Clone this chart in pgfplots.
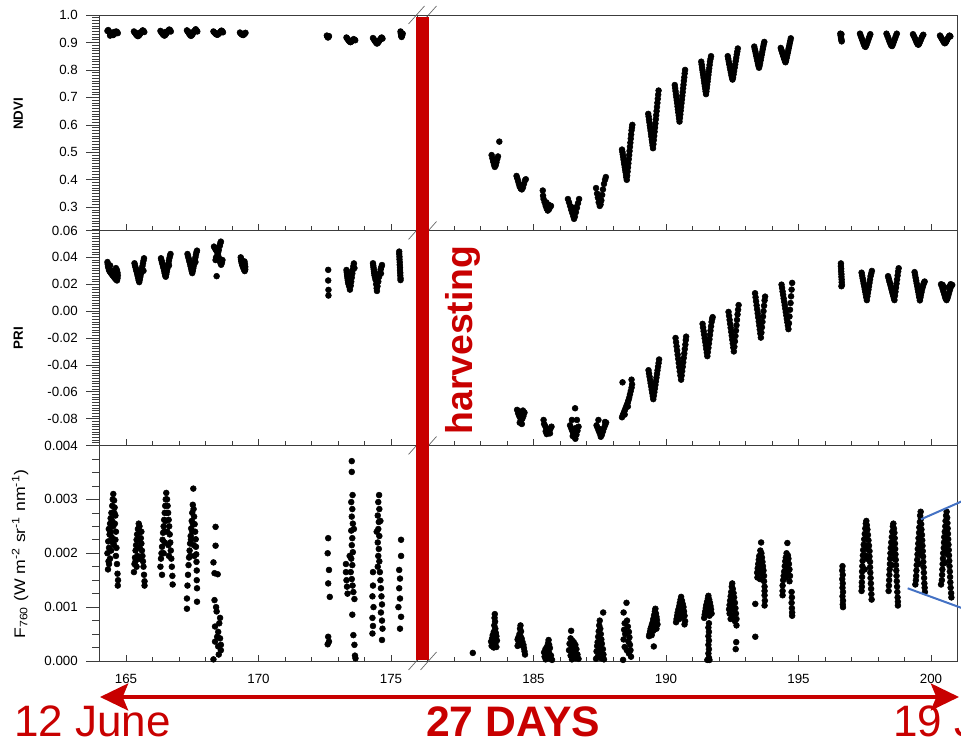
\documentclass[border=0pt]{standalone}
\usepackage{pgfplots}
\pgfplotsset{compat=1.18}
\usepackage{fontspec}
\setmainfont{Liberation Sans}
\usetikzlibrary{arrows.meta}
\definecolor{hred}{RGB}{200,0,0}
\definecolor{bl}{RGB}{68,114,196}
\definecolor{ax}{RGB}{60,60,60}
\pgfplotsset{
  panel/.style={scale only axis, anchor=south west, axis line style={draw=ax, line width=0.6pt},
    tick style={draw=ax, line width=0.5pt}, ytick=\empty, xtick pos=bottom,
    major tick length=4.5pt, minor tick length=3pt, xticklabels={},
    xticklabel style={font=\fontsize{10}{12}\selectfont, yshift=-6.5pt}, scaled y ticks=false},
  leftx/.style={width=238.5pt, xmin=164, xmax=176, xtick={165,170,175}, minor xtick={164,...,176}},
  rightx/.style={width=397.5pt, xmin=181, xmax=201, xtick={185,190,195,200}, minor xtick={181,...,201}},
  yov/.style={scale only axis, anchor=south west, width=238.5pt, xmin=164, xmax=176, hide x axis,
    ytick pos=left, tick align=outside, axis line style={draw=ax, line width=0.6pt},
    tick style={draw=ax, line width=0.5pt}, major tick length=9.75pt, minor tick length=5.5pt,
    yticklabel style={font=\fontsize{10}{12}\selectfont, xshift=-3pt}, scaled y ticks=false},
  dots/.style={only marks, mark=*, mark size=2.2pt, mark options={draw=black, fill=black, line width=0.4pt}},
}
\begin{document}
\begin{tikzpicture}
\useasboundingbox (0,0) rectangle (720.75pt,559.5pt);
% ---------------- NDVI ----------------
\begin{axis}[panel, leftx, at={(74.625pt,386.625pt)}, height=161.625pt, ymin=0.2155, ymax=1.0]
\addplot[dots] coordinates {
(164.30,0.942)(164.33,0.945)(164.36,0.940)(164.39,0.935)(164.42,0.932)(164.45,0.930)(164.48,0.928)(164.51,0.927)(164.54,0.929)(164.57,0.932)(164.60,0.936)(164.63,0.940)(164.66,0.938)(164.69,0.934)(164.40,0.925)(164.55,0.938)
(165.30,0.940)(165.33,0.936)(165.36,0.932)(165.39,0.928)(165.42,0.925)(165.45,0.923)(165.48,0.925)(165.51,0.928)(165.54,0.932)(165.57,0.936)(165.60,0.940)(165.63,0.944)(165.66,0.942)(165.69,0.938)(165.50,0.935)
(166.30,0.942)(166.33,0.938)(166.36,0.934)(166.39,0.930)(166.42,0.927)(166.45,0.925)(166.48,0.927)(166.51,0.931)(166.54,0.935)(166.57,0.939)(166.60,0.943)(166.63,0.947)(166.66,0.945)(166.69,0.940)(166.48,0.938)
(167.30,0.944)(167.33,0.940)(167.36,0.935)(167.39,0.931)(167.42,0.927)(167.45,0.924)(167.48,0.926)(167.51,0.930)(167.54,0.935)(167.57,0.940)(167.60,0.944)(167.63,0.948)(167.66,0.944)(167.69,0.940)(167.45,0.936)
(168.30,0.940)(168.33,0.937)(168.36,0.934)(168.39,0.931)(168.42,0.929)(168.45,0.928)(168.48,0.930)(168.51,0.933)(168.54,0.936)(168.57,0.940)(168.60,0.943)(168.63,0.941)(168.66,0.937)
(169.30,0.936)(169.33,0.933)(169.36,0.930)(169.39,0.928)(169.42,0.927)(169.45,0.929)(169.48,0.932)(169.51,0.935)
(172.58,0.925)(172.60,0.921)(172.62,0.918)(172.64,0.920)(172.66,0.923)
(173.32,0.918)(173.35,0.914)(173.38,0.910)(173.41,0.906)(173.44,0.903)(173.47,0.901)(173.50,0.903)(173.53,0.906)(173.56,0.909)(173.59,0.912)(173.62,0.910)(173.65,0.908)
(174.32,0.916)(174.35,0.912)(174.38,0.907)(174.41,0.903)(174.44,0.899)(174.47,0.896)(174.50,0.898)(174.53,0.902)(174.56,0.906)(174.59,0.911)(174.62,0.915)(174.65,0.918)(174.68,0.914)
(175.36,0.940)(175.37,0.934)(175.38,0.928)(175.39,0.923)(175.40,0.920)(175.42,0.925)(175.44,0.932)
};
\end{axis}
\begin{axis}[yov, at={(74.625pt,386.625pt)}, height=161.625pt, ymin=0.2155, ymax=1.0,
  ytick={0.3,0.4,0.5,0.6,0.7,0.8,0.9,1.0}, yticklabels={0.3,0.4,0.5,0.6,0.7,0.8,0.9,1.0},
  minor ytick={0.22,0.23,...,0.99}]
\end{axis}
\begin{axis}[panel, rightx, at={(320.625pt,386.625pt)}, height=161.625pt, ymin=0.2155, ymax=1.0]
\addplot[dots] coordinates {
(183.71,0.539)(183.42,0.490)(183.45,0.478)(183.48,0.466)(183.51,0.455)(183.54,0.447)(183.57,0.452)(183.60,0.463)(183.63,0.475)(183.66,0.485)(183.50,0.470)
(184.36,0.414)(184.39,0.405)(184.42,0.395)(184.45,0.385)(184.48,0.375)(184.52,0.368)(184.56,0.365)(184.60,0.372)(184.64,0.385)(184.68,0.398)(184.71,0.402)
(185.35,0.361)(185.36,0.342)(185.38,0.330)(185.42,0.318)(185.46,0.305)(185.50,0.295)(185.54,0.288)(185.58,0.292)(185.62,0.300)(185.66,0.305)(185.56,0.310)(185.48,0.318)
(186.30,0.330)(186.34,0.318)(186.38,0.305)(186.42,0.292)(186.46,0.280)(186.50,0.268)(186.53,0.258)(186.56,0.266)(186.60,0.282)(186.64,0.298)(186.68,0.315)(186.72,0.330)(186.45,0.300)(186.60,0.300)
(187.36,0.370)(187.40,0.350)(187.43,0.335)(187.46,0.318)(187.50,0.305)(187.53,0.310)(187.56,0.325)(187.59,0.345)(187.62,0.365)(187.66,0.385)(187.70,0.400)(187.73,0.410)(187.52,0.320)
(188.340,0.510)(188.355,0.501)(188.370,0.492)(188.385,0.483)(188.400,0.473)(188.415,0.464)(188.430,0.455)(188.445,0.446)(188.460,0.437)(188.475,0.428)(188.490,0.418)(188.505,0.409)(188.520,0.400)
(188.535,0.415)(188.550,0.430)(188.565,0.445)(188.580,0.460)(188.595,0.475)(188.610,0.490)(188.625,0.505)(188.640,0.520)(188.655,0.535)(188.670,0.550)(188.685,0.565)(188.700,0.580)(188.715,0.590)(188.730,0.600)
(189.330,0.640)(189.345,0.630)(189.360,0.619)(189.375,0.609)(189.390,0.598)(189.405,0.588)(189.420,0.578)(189.435,0.567)(189.450,0.557)(189.465,0.546)(189.480,0.536)(189.495,0.525)(189.510,0.515)
(189.525,0.530)(189.540,0.545)(189.555,0.560)(189.570,0.575)(189.585,0.590)(189.600,0.605)(189.615,0.620)(189.630,0.635)(189.645,0.650)(189.660,0.665)(189.675,0.680)(189.690,0.695)(189.705,0.710)(189.720,0.725)
(190.330,0.745)(190.345,0.734)(190.360,0.723)(190.375,0.712)(190.390,0.701)(190.405,0.690)(190.420,0.679)(190.435,0.667)(190.450,0.656)(190.465,0.645)(190.480,0.634)(190.495,0.623)(190.510,0.612)
(190.525,0.625)(190.540,0.638)(190.555,0.652)(190.570,0.665)(190.585,0.679)(190.600,0.692)(190.615,0.706)(190.630,0.719)(190.645,0.733)(190.660,0.746)(190.675,0.760)(190.690,0.773)(190.705,0.787)(190.720,0.800)
(191.330,0.830)(191.345,0.820)(191.360,0.810)(191.375,0.800)(191.390,0.791)(191.405,0.781)(191.420,0.771)(191.435,0.761)(191.450,0.751)(191.465,0.741)(191.480,0.732)(191.495,0.722)(191.510,0.712)
(191.525,0.722)(191.540,0.734)(191.555,0.746)(191.570,0.758)(191.585,0.770)(191.600,0.782)(191.615,0.794)(191.630,0.806)(191.645,0.818)(191.660,0.830)(191.680,0.840)(191.700,0.850)
(192.33,0.850)(192.35,0.840)(192.37,0.830)(192.39,0.820)(192.41,0.810)(192.43,0.800)(192.45,0.790)(192.47,0.780)(192.49,0.772)(192.51,0.765)
(192.53,0.772)(192.55,0.784)(192.57,0.796)(192.59,0.808)(192.61,0.820)(192.63,0.832)(192.65,0.844)(192.67,0.856)(192.69,0.867)(192.71,0.878)
(193.33,0.885)(193.35,0.876)(193.37,0.868)(193.39,0.859)(193.41,0.850)(193.43,0.841)(193.45,0.832)(193.47,0.823)(193.49,0.815)(193.51,0.808)
(193.53,0.815)(193.55,0.825)(193.57,0.835)(193.59,0.845)(193.61,0.855)(193.63,0.865)(193.65,0.875)(193.67,0.885)(193.69,0.894)(193.71,0.902)
(194.33,0.880)(194.35,0.874)(194.37,0.868)(194.39,0.862)(194.41,0.856)(194.43,0.850)(194.45,0.844)(194.47,0.838)(194.49,0.832)(194.51,0.828)
(194.53,0.834)(194.55,0.843)(194.57,0.852)(194.59,0.861)(194.61,0.870)(194.63,0.879)(194.65,0.888)(194.67,0.897)(194.69,0.906)(194.71,0.915)
(196.58,0.932)(196.59,0.926)(196.60,0.920)(196.61,0.914)(196.62,0.909)(196.63,0.904)(196.62,0.930)
(197.32,0.932)(197.35,0.924)(197.38,0.916)(197.41,0.908)(197.44,0.900)(197.47,0.892)(197.50,0.886)(197.53,0.884)(197.56,0.890)(197.59,0.898)(197.62,0.906)(197.65,0.914)(197.68,0.922)(197.71,0.930)
(198.32,0.932)(198.35,0.925)(198.38,0.918)(198.41,0.910)(198.44,0.902)(198.47,0.895)(198.50,0.889)(198.53,0.887)(198.56,0.893)(198.59,0.901)(198.62,0.909)(198.65,0.917)(198.68,0.925)(198.71,0.932)
(199.32,0.930)(199.35,0.924)(199.38,0.918)(199.41,0.911)(199.44,0.904)(199.47,0.898)(199.50,0.893)(199.53,0.892)(199.56,0.897)(199.59,0.904)(199.62,0.911)(199.65,0.918)(199.68,0.924)(199.71,0.928)
(200.34,0.925)(200.37,0.920)(200.40,0.915)(200.43,0.910)(200.46,0.905)(200.49,0.900)(200.52,0.897)(200.55,0.899)(200.58,0.904)(200.61,0.910)(200.64,0.916)(200.67,0.921)(200.70,0.925)(200.73,0.922)
};
\end{axis}
% ---------------- PRI ----------------
\begin{axis}[panel, leftx, at={(74.625pt,225.375pt)}, height=161.25pt, ymin=-0.1, ymax=0.06]
\addplot[dots] coordinates {
(164.30,0.0365)(164.31,0.0350)(164.32,0.0335)(164.34,0.0320)(164.36,0.0305)(164.39,0.0295)(164.42,0.0285)(164.46,0.0275)(164.50,0.0265)(164.54,0.0255)(164.58,0.0245)(164.62,0.0235)(164.66,0.0228)(164.68,0.0245)(164.69,0.0265)(164.68,0.0285)(164.66,0.0305)(164.62,0.0320)(164.40,0.0340)(164.50,0.0300)
(165.32,0.0356)(165.34,0.0340)(165.36,0.0325)(165.38,0.0310)(165.40,0.0295)(165.42,0.0280)(165.44,0.0262)(165.46,0.0245)(165.48,0.0228)(165.50,0.0216)(165.52,0.0235)(165.54,0.0255)(165.56,0.0275)(165.58,0.0295)(165.60,0.0315)(165.62,0.0335)(165.64,0.0355)(165.66,0.0375)(165.68,0.0393)(165.66,0.0300)
(166.32,0.0393)(166.34,0.0378)(166.36,0.0363)(166.38,0.0348)(166.40,0.0333)(166.42,0.0318)(166.44,0.0300)(166.46,0.0282)(166.48,0.0265)(166.50,0.0256)(166.52,0.0275)(166.54,0.0295)(166.56,0.0315)(166.58,0.0335)(166.60,0.0355)(166.62,0.0375)(166.64,0.0395)(166.66,0.0412)(166.68,0.0425)(166.62,0.0340)
(167.32,0.0425)(167.34,0.0410)(167.36,0.0395)(167.38,0.0380)(167.40,0.0365)(167.42,0.0350)(167.44,0.0333)(167.46,0.0315)(167.48,0.0298)(167.50,0.0283)(167.52,0.0300)(167.54,0.0320)(167.56,0.0340)(167.58,0.0360)(167.60,0.0380)(167.62,0.0400)(167.64,0.0420)(167.66,0.0438)(167.68,0.0450)(167.62,0.0365)
(168.32,0.0480)(168.35,0.0470)(168.38,0.0460)(168.41,0.0450)(168.44,0.0440)(168.47,0.0420)(168.50,0.0400)(168.53,0.0380)(168.56,0.0360)(168.59,0.0345)(168.62,0.0360)(168.64,0.0380)(168.38,0.0380)(168.40,0.0400)(168.44,0.0410)(168.50,0.0455)(168.54,0.0485)(168.56,0.0505)(168.58,0.0517)(168.48,0.0440)(168.42,0.0260)
(169.33,0.0400)(169.34,0.0385)(169.35,0.0370)(169.37,0.0355)(169.39,0.0340)(169.42,0.0325)(169.45,0.0310)(169.48,0.0298)(169.50,0.0310)(169.50,0.0330)(169.49,0.0350)(169.47,0.0370)
(172.63,0.0307)(172.63,0.0228)(172.64,0.0158)(172.64,0.0116)
(173.32,0.0306)(173.33,0.0290)(173.34,0.0275)(173.35,0.0260)(173.36,0.0245)(173.37,0.0230)(173.38,0.0215)(173.40,0.0200)(173.42,0.0185)(173.45,0.0160)(173.48,0.0190)(173.50,0.0220)(173.52,0.0250)(173.54,0.0280)(173.56,0.0310)(173.58,0.0335)(173.60,0.0355)(173.62,0.0320)(173.54,0.0300)(173.44,0.0240)
(174.32,0.0356)(174.33,0.0340)(174.34,0.0325)(174.35,0.0310)(174.36,0.0295)(174.37,0.0280)(174.38,0.0265)(174.40,0.0250)(174.42,0.0232)(174.44,0.0200)(174.46,0.0170)(174.47,0.0150)(174.49,0.0185)(174.52,0.0220)(174.55,0.0255)(174.58,0.0285)(174.61,0.0310)(174.64,0.0330)(174.66,0.0343)(174.62,0.0280)
(175.31,0.0443)(175.31,0.0425)(175.32,0.0405)(175.32,0.0385)(175.33,0.0365)(175.33,0.0345)(175.34,0.0325)(175.34,0.0305)(175.35,0.0285)(175.35,0.0265)(175.36,0.0245)(175.36,0.0231)
};
\end{axis}
\begin{axis}[yov, at={(74.625pt,225.375pt)}, height=161.25pt, ymin=-0.1, ymax=0.06,
  ytick={-0.08,-0.06,-0.04,-0.02,0,0.02,0.04,0.06}, yticklabels={-0.08,-0.06,-0.04,-0.02,0.00,0.02,0.04,0.06},
  minor ytick={-0.098,-0.096,...,0.058}]
\end{axis}
\begin{axis}[panel, rightx, at={(320.625pt,225.375pt)}, height=161.25pt, ymin=-0.1, ymax=0.06]
\addplot[dots] coordinates {
(184.38,-0.0735)(184.42,-0.0760)(184.46,-0.0780)(184.50,-0.0795)(184.54,-0.0810)(184.58,-0.0800)(184.62,-0.0780)(184.66,-0.0755)(184.48,-0.0830)(184.56,-0.0840)(184.44,-0.0745)(184.60,-0.0740)(184.52,-0.0770)
(185.38,-0.0810)(185.40,-0.0840)(185.44,-0.0855)(185.48,-0.0870)(185.52,-0.0885)(185.56,-0.0900)(185.60,-0.0890)(185.64,-0.0875)(185.68,-0.0860)(185.50,-0.0915)(185.62,-0.0910)(185.46,-0.0895)
(186.57,-0.0723)(186.45,-0.0810)(186.64,-0.0810)(186.38,-0.0850)(186.42,-0.0870)(186.46,-0.0890)(186.50,-0.0910)(186.54,-0.0935)(186.58,-0.0950)(186.62,-0.0920)(186.66,-0.0890)(186.70,-0.0860)(186.48,-0.0930)(186.60,-0.0870)
(187.45,-0.0810)(187.70,-0.0825)(187.38,-0.0850)(187.42,-0.0870)(187.46,-0.0890)(187.50,-0.0910)(187.54,-0.0935)(187.58,-0.0920)(187.62,-0.0895)(187.66,-0.0870)(187.70,-0.0850)(187.74,-0.0830)(187.52,-0.0880)
(188.36,-0.0530)(188.70,-0.0510)(188.34,-0.0790)(188.37,-0.0775)(188.40,-0.0760)(188.43,-0.0745)(188.46,-0.0730)(188.49,-0.0715)(188.52,-0.0700)(188.55,-0.0685)(188.58,-0.0665)(188.61,-0.0645)(188.64,-0.0620)(188.67,-0.0595)(188.70,-0.0570)(188.72,-0.0545)(188.44,-0.0770)(188.56,-0.0710)
(189.34,-0.0440)(189.36,-0.0464)(189.38,-0.0488)(189.40,-0.0512)(189.42,-0.0536)(189.44,-0.0560)(189.46,-0.0584)(189.48,-0.0608)(189.50,-0.0632)(189.52,-0.0655)
(189.54,-0.0630)(189.56,-0.0603)(189.58,-0.0576)(189.60,-0.0549)(189.62,-0.0522)(189.64,-0.0495)(189.66,-0.0468)(189.68,-0.0441)(189.70,-0.0414)(189.72,-0.0387)(189.74,-0.0360)
(190.36,-0.0200)(190.38,-0.0231)(190.40,-0.0262)(190.42,-0.0293)(190.44,-0.0324)(190.46,-0.0355)(190.48,-0.0386)(190.50,-0.0417)(190.52,-0.0448)(190.545,-0.0479)(190.57,-0.0510)
(190.59,-0.0480)(190.61,-0.0447)(190.63,-0.0414)(190.65,-0.0381)(190.67,-0.0348)(190.69,-0.0315)(190.71,-0.0282)(190.73,-0.0249)(190.745,-0.0216)(190.76,-0.0190)
(191.38,-0.0095)(191.40,-0.0122)(191.42,-0.0149)(191.44,-0.0175)(191.46,-0.0202)(191.48,-0.0229)(191.50,-0.0255)(191.52,-0.0282)(191.54,-0.0309)(191.56,-0.0335)
(191.58,-0.0305)(191.60,-0.0273)(191.62,-0.0241)(191.64,-0.0209)(191.66,-0.0177)(191.68,-0.0145)(191.70,-0.0113)(191.72,-0.0081)(191.74,-0.0060)(191.76,-0.0045)
(192.36,-0.0006)(192.38,-0.0035)(192.40,-0.0065)(192.42,-0.0094)(192.44,-0.0124)(192.46,-0.0153)(192.48,-0.0182)(192.50,-0.0212)(192.52,-0.0241)(192.54,-0.0271)(192.56,-0.0300)
(192.58,-0.0265)(192.60,-0.0225)(192.62,-0.0185)(192.64,-0.0145)(192.66,-0.0105)(192.68,-0.0065)(192.70,-0.0025)(192.72,0.0010)(192.74,0.0045)
(193.36,0.0133)(193.38,0.0103)(193.40,0.0073)(193.42,0.0043)(193.44,0.0013)(193.46,-0.0017)(193.48,-0.0047)(193.50,-0.0077)(193.52,-0.0107)(193.54,-0.0137)(193.56,-0.0167)(193.58,-0.0197)
(193.60,-0.0160)(193.62,-0.0120)(193.64,-0.0080)(193.66,-0.0040)(193.68,0.0000)(193.70,0.0040)(193.72,0.0080)(193.74,0.0108)
(194.36,0.0197)(194.38,0.0172)(194.40,0.0146)(194.42,0.0121)(194.44,0.0095)(194.46,0.0070)(194.48,0.0044)(194.50,0.0019)(194.52,-0.0007)(194.54,-0.0032)(194.56,-0.0058)(194.58,-0.0083)(194.60,-0.0109)(194.62,-0.0134)
(194.64,-0.0090)(194.66,-0.0040)(194.68,0.0010)(194.70,0.0060)(194.72,0.0110)(194.74,0.0160)(194.76,0.0210)
(196.60,0.0355)(196.60,0.0335)(196.61,0.0315)(196.61,0.0295)(196.62,0.0275)(196.62,0.0255)(196.63,0.0235)(196.63,0.0215)(196.64,0.0195)(196.62,0.0185)
(197.38,0.0286)(197.40,0.0266)(197.42,0.0245)(197.44,0.0225)(197.46,0.0204)(197.48,0.0184)(197.50,0.0163)(197.52,0.0143)(197.54,0.0123)(197.56,0.0102)(197.58,0.0082)
(197.60,0.0110)(197.62,0.0135)(197.64,0.0160)(197.66,0.0185)(197.68,0.0210)(197.70,0.0235)(197.72,0.0260)(197.745,0.0280)(197.77,0.0299)
(198.38,0.0260)(198.40,0.0245)(198.42,0.0230)(198.44,0.0215)(198.46,0.0201)(198.48,0.0186)(198.50,0.0171)(198.52,0.0156)(198.54,0.0141)(198.56,0.0127)(198.58,0.0112)(198.60,0.0097)(198.62,0.0082)
(198.64,0.0115)(198.66,0.0145)(198.68,0.0175)(198.70,0.0205)(198.72,0.0235)(198.74,0.0265)(198.76,0.0295)(198.78,0.0319)
(199.38,0.0290)(199.40,0.0269)(199.42,0.0248)(199.44,0.0227)(199.46,0.0206)(199.48,0.0185)(199.50,0.0164)(199.52,0.0143)(199.54,0.0122)(199.56,0.0101)(199.58,0.0080)
(199.60,0.0100)(199.62,0.0120)(199.64,0.0140)(199.66,0.0160)(199.68,0.0175)(199.70,0.0190)(199.72,0.0203)(199.74,0.0213)(199.76,0.0220)
(200.38,0.0200)(200.41,0.0185)(200.44,0.0165)(200.47,0.0145)(200.50,0.0125)(200.53,0.0105)(200.56,0.0090)(200.59,0.0082)(200.62,0.0095)(200.65,0.0115)(200.68,0.0135)(200.71,0.0155)(200.74,0.0175)(200.77,0.0190)(200.80,0.0195)(200.44,0.0195)(200.74,0.0200)(200.50,0.0175)(200.68,0.0180)
};
\end{axis}
% ---------------- F760 ----------------
\begin{axis}[panel, leftx, at={(74.625pt,63.75pt)}, height=161.625pt, ymin=0, ymax=0.004, xticklabels={165,170,175}]
\addplot[dots] coordinates {
(164.32,0.00170)(164.34,0.00185)(164.30,0.00200)(164.36,0.00210)(164.33,0.00222)(164.38,0.00235)(164.35,0.00245)(164.40,0.00255)(164.42,0.00265)(164.45,0.00275)(164.48,0.00288)(164.50,0.00300)(164.52,0.00310)(164.55,0.00298)(164.57,0.00285)(164.60,0.00270)(164.58,0.00255)(164.62,0.00240)(164.60,0.00225)(164.64,0.00210)(164.62,0.00195)(164.66,0.00180)(164.68,0.00162)(164.70,0.00150)(164.69,0.00140)(164.46,0.00230)(164.52,0.00250)(164.44,0.00205)(164.55,0.00215)(164.40,0.00190)(164.48,0.00260)(164.56,0.00275)(164.50,0.00220)(164.42,0.00240)(164.36,0.00180)
(165.30,0.00165)(165.32,0.00180)(165.34,0.00192)(165.36,0.00205)(165.38,0.00215)(165.40,0.00225)(165.42,0.00235)(165.45,0.00245)(165.48,0.00255)(165.51,0.00250)(165.54,0.00240)(165.56,0.00228)(165.58,0.00218)(165.60,0.00205)(165.62,0.00195)(165.64,0.00185)(165.66,0.00175)(165.68,0.00160)(165.70,0.00148)(165.70,0.00140)(165.46,0.00225)(165.52,0.00210)(165.44,0.00195)(165.58,0.00240)(165.36,0.00185)(165.50,0.00190)(165.40,0.00175)
(166.30,0.00175)(166.32,0.00190)(166.34,0.00200)(166.36,0.00212)(166.38,0.00225)(166.40,0.00238)(166.42,0.00250)(166.44,0.00262)(166.46,0.00275)(166.48,0.00288)(166.50,0.00300)(166.52,0.00312)(166.55,0.00300)(166.57,0.00288)(166.59,0.00275)(166.61,0.00262)(166.63,0.00250)(166.65,0.00235)(166.67,0.00220)(166.69,0.00205)(166.71,0.00190)(166.73,0.00175)(166.75,0.00158)(166.76,0.00142)(166.36,0.00160)(166.50,0.00260)(166.56,0.00240)(166.46,0.00220)(166.60,0.00215)(166.42,0.00200)(166.54,0.00275)(166.44,0.00240)(166.62,0.00195)
(167.30,0.00097)(167.30,0.00116)(167.32,0.00140)(167.34,0.00160)(167.36,0.00178)(167.38,0.00192)(167.40,0.00205)(167.42,0.00218)(167.44,0.00232)(167.46,0.00246)(167.48,0.00260)(167.50,0.00275)(167.52,0.00290)(167.54,0.00320)(167.55,0.00282)(167.57,0.00268)(167.59,0.00254)(167.61,0.00240)(167.63,0.00226)(167.64,0.00212)(167.65,0.00198)(167.66,0.00184)(167.67,0.00168)(167.67,0.00150)(167.68,0.00135)(167.68,0.00110)(167.45,0.00225)(167.50,0.00240)(167.56,0.00215)(167.42,0.00195)(167.52,0.00255)(167.58,0.00195)
(168.38,0.00249)(168.38,0.00214)(168.30,0.00183)(168.34,0.00163)(168.46,0.00161)(168.34,0.00113)(168.42,0.00092)(168.55,0.00080)(168.36,0.00064)(168.48,0.00054)(168.55,0.00042)(168.36,0.00036)(168.48,0.00027)(168.58,0.00020)(168.30,0.00003)(168.40,0.00100)(168.52,0.00070)(168.44,0.00045)(168.58,0.00030)(168.50,0.00012)
(172.63,0.00228)(172.61,0.00200)(172.66,0.00169)(172.63,0.00144)(172.69,0.00119)(172.63,0.00045)(172.66,0.00036)(172.61,0.00031)
(173.52,0.00371)(173.52,0.00351)(173.55,0.00308)(173.50,0.00295)(173.54,0.00282)(173.52,0.00268)(173.56,0.00255)(173.50,0.00242)(173.54,0.00228)(173.52,0.00215)(173.56,0.00202)(173.50,0.00190)(173.54,0.00178)(173.48,0.00165)(173.52,0.00152)(173.55,0.00140)(173.30,0.00180)(173.30,0.00165)(173.32,0.00150)(173.34,0.00138)(173.36,0.00125)(173.58,0.00128)(173.62,0.00115)(173.54,0.00086)(173.58,0.00048)(173.62,0.00030)(173.64,0.00010)(173.66,0.00005)(173.44,0.00195)(173.60,0.00245)
(174.55,0.00308)(174.52,0.00295)(174.56,0.00282)(174.50,0.00270)(174.54,0.00258)(174.52,0.00245)(174.56,0.00232)(174.50,0.00220)(174.54,0.00208)(174.52,0.00195)(174.56,0.00185)(174.50,0.00175)(174.58,0.00165)(174.60,0.00150)(174.62,0.00135)(174.64,0.00120)(174.66,0.00105)(174.62,0.00090)(174.66,0.00075)(174.68,0.00060)(174.66,0.00039)(174.32,0.00165)(174.32,0.00140)(174.30,0.00120)(174.34,0.00100)(174.30,0.00080)(174.32,0.00065)(174.30,0.00051)(174.46,0.00240)(174.60,0.00260)
(175.38,0.00225)(175.38,0.00195)(175.31,0.00169)(175.34,0.00153)(175.31,0.00135)(175.34,0.00116)(175.28,0.00100)(175.38,0.00082)(175.34,0.00060)
};
\end{axis}
\begin{axis}[yov, at={(74.625pt,63.75pt)}, height=161.625pt, ymin=0, ymax=0.004,
  ytick={0,0.001,0.002,0.003,0.004}, yticklabels={0.000,0.001,0.002,0.003,0.004},
  minor ytick={0.00025,0.0005,0.00075,0.00125,0.0015,0.00175,0.00225,0.0025,0.00275,0.00325,0.0035,0.00375}]
\end{axis}
\begin{axis}[panel, rightx, at={(320.625pt,63.75pt)}, height=161.625pt, ymin=0, ymax=0.004, xticklabels={185,190,195,200}]
\addplot[dots] coordinates {
(182.71,0.00015)
(183.54,0.00087)(183.53,0.00080)(183.55,0.00073)(183.52,0.00066)(183.56,0.00060)(183.50,0.00054)(183.58,0.00052)(183.46,0.00048)(183.60,0.00046)(183.44,0.00042)(183.52,0.00040)(183.62,0.00038)(183.40,0.00036)(183.48,0.00034)(183.56,0.00032)(183.42,0.00028)(183.60,0.00026)(183.50,0.00025)
(184.51,0.00066)(184.49,0.00060)(184.53,0.00055)(184.47,0.00050)(184.51,0.00046)(184.43,0.00044)(184.55,0.00042)(184.40,0.00040)(184.48,0.00038)(184.58,0.00036)(184.44,0.00033)(184.62,0.00030)(184.52,0.00030)(184.64,0.00024)(184.66,0.00018)(184.68,0.00012)(184.40,0.00028)
(185.57,0.00039)(185.55,0.00033)(185.59,0.00030)(185.50,0.00026)(185.62,0.00024)(185.45,0.00022)(185.55,0.00020)(185.40,0.00016)(185.60,0.00014)(185.48,0.00012)(185.66,0.00010)(185.42,0.00008)(185.54,0.00006)(185.62,0.00004)(185.46,0.00003)(185.70,0.00002)
(186.42,0.00056)(186.40,0.00042)(186.46,0.00038)(186.52,0.00035)(186.36,0.00032)(186.58,0.00030)(186.44,0.00028)(186.50,0.00025)(186.62,0.00022)(186.34,0.00020)(186.56,0.00018)(186.46,0.00015)(186.66,0.00012)(186.40,0.00010)(186.52,0.00008)(186.60,0.00005)(186.70,0.00004)(186.45,0.00003)
(187.63,0.00090)(187.50,0.00075)(187.48,0.00066)(187.52,0.00060)(187.46,0.00055)(187.54,0.00050)(187.44,0.00045)(187.56,0.00040)(187.42,0.00035)(187.58,0.00032)(187.40,0.00028)(187.52,0.00025)(187.62,0.00022)(187.38,0.00018)(187.48,0.00015)(187.64,0.00012)(187.42,0.00008)(187.56,0.00005)(187.66,0.00003)(187.36,0.00004)
(188.51,0.00108)(188.40,0.00090)(188.53,0.00075)(188.44,0.00070)(188.56,0.00064)(188.42,0.00058)(188.60,0.00054)(188.46,0.00050)(188.62,0.00044)(188.40,0.00040)(188.58,0.00036)(188.64,0.00030)(188.44,0.00026)(188.66,0.00020)(188.60,0.00014)(188.68,0.00008)(188.38,0.00002)(188.52,0.00020)
(189.60,0.00097)(189.58,0.00092)(189.62,0.00088)(189.55,0.00085)(189.64,0.00082)(189.52,0.00078)(189.66,0.00076)(189.50,0.00072)(189.60,0.00072)(189.47,0.00068)(189.68,0.00068)(189.45,0.00064)(189.56,0.00064)(189.42,0.00060)(189.64,0.00060)(189.40,0.00055)(189.52,0.00056)(189.38,0.00050)(189.46,0.00048)(189.36,0.00046)(189.54,0.00027)
(190.57,0.00119)(190.55,0.00114)(190.60,0.00112)(190.52,0.00108)(190.63,0.00106)(190.50,0.00102)(190.66,0.00100)(190.47,0.00096)(190.58,0.00096)(190.68,0.00092)(190.44,0.00090)(190.54,0.00088)(190.70,0.00084)(190.42,0.00084)(190.62,0.00082)(190.40,0.00078)(190.50,0.00078)(190.72,0.00074)(190.38,0.00072)(190.70,0.00068)
(191.60,0.00121)(191.58,0.00116)(191.63,0.00114)(191.55,0.00110)(191.66,0.00108)(191.52,0.00104)(191.68,0.00102)(191.50,0.00098)(191.60,0.00100)(191.70,0.00096)(191.48,0.00092)(191.58,0.00090)(191.72,0.00088)(191.46,0.00086)(191.64,0.00084)(191.44,0.00080)(191.62,0.00070)(191.60,0.00062)(191.62,0.00054)(191.60,0.00046)(191.62,0.00038)(191.60,0.00030)(191.62,0.00022)(191.60,0.00014)(191.62,0.00006)(191.56,0.00002)(191.64,0.00002)
(192.50,0.00144)(192.48,0.00138)(192.52,0.00134)(192.46,0.00128)(192.55,0.00126)(192.44,0.00120)(192.57,0.00118)(192.42,0.00112)(192.52,0.00112)(192.60,0.00108)(192.40,0.00104)(192.48,0.00102)(192.62,0.00098)(192.38,0.00096)(192.56,0.00094)(192.64,0.00088)(192.40,0.00088)(192.50,0.00084)(192.66,0.00078)(192.44,0.00078)(192.60,0.00074)(192.66,0.00066)(192.65,0.00035)(192.63,0.00022)
(193.59,0.00220)(193.56,0.00205)(193.60,0.00200)(193.52,0.00195)(193.62,0.00192)(193.50,0.00188)(193.64,0.00184)(193.48,0.00180)(193.58,0.00180)(193.66,0.00176)(193.46,0.00172)(193.54,0.00170)(193.68,0.00168)(193.44,0.00164)(193.62,0.00162)(193.70,0.00158)(193.45,0.00155)(193.55,0.00152)(193.70,0.00148)(193.72,0.00138)(193.72,0.00130)(193.72,0.00122)(193.73,0.00112)(193.72,0.00103)(193.37,0.00106)(193.37,0.00045)
(194.58,0.00219)(194.55,0.00200)(194.60,0.00196)(194.52,0.00192)(194.62,0.00190)(194.50,0.00185)(194.58,0.00185)(194.64,0.00180)(194.48,0.00176)(194.56,0.00174)(194.66,0.00170)(194.46,0.00166)(194.60,0.00164)(194.44,0.00158)(194.68,0.00158)(194.52,0.00155)(194.42,0.00150)(194.66,0.00148)(194.40,0.00140)(194.40,0.00130)(194.40,0.00122)(194.74,0.00128)(194.75,0.00118)(194.74,0.00108)(194.75,0.00098)(194.76,0.00090)(194.76,0.00084)
(196.66,0.00176)(196.65,0.00168)(196.67,0.00160)(196.65,0.00152)(196.67,0.00144)(196.66,0.00136)(196.68,0.00128)(196.66,0.00120)(196.68,0.00112)(196.67,0.00105)(196.68,0.00100)
(197.56,0.00260)(197.54,0.00255)(197.58,0.00252)(197.52,0.00246)(197.60,0.00244)(197.50,0.00236)(197.62,0.00234)(197.48,0.00226)(197.56,0.00230)(197.64,0.00224)(197.46,0.00216)(197.54,0.00214)(197.66,0.00214)(197.44,0.00206)(197.60,0.00208)(197.68,0.00204)(197.43,0.00196)(197.52,0.00196)(197.68,0.00194)(197.42,0.00186)(197.58,0.00190)(197.70,0.00184)(197.41,0.00176)(197.70,0.00174)(197.40,0.00166)(197.50,0.00170)(197.71,0.00164)(197.40,0.00156)(197.72,0.00154)(197.39,0.00146)(197.73,0.00144)(197.39,0.00138)(197.38,0.00130)(197.74,0.00134)(197.75,0.00124)(197.76,0.00114)
(198.58,0.00255)(198.56,0.00250)(198.60,0.00246)(198.54,0.00240)(198.62,0.00238)(198.52,0.00230)(198.58,0.00230)(198.63,0.00228)(198.50,0.00220)(198.56,0.00218)(198.64,0.00218)(198.48,0.00210)(198.60,0.00208)(198.65,0.00208)(198.47,0.00200)(198.54,0.00200)(198.66,0.00198)(198.46,0.00190)(198.60,0.00190)(198.67,0.00188)(198.45,0.00180)(198.52,0.00178)(198.68,0.00178)(198.44,0.00170)(198.69,0.00168)(198.43,0.00160)(198.70,0.00158)(198.42,0.00150)(198.71,0.00148)(198.41,0.00140)(198.72,0.00138)(198.40,0.00130)(198.73,0.00128)(198.74,0.00118)(198.75,0.00110)(198.75,0.00103)
(199.61,0.00277)(199.59,0.00270)(199.62,0.00264)(199.58,0.00258)(199.63,0.00254)(199.56,0.00248)(199.64,0.00244)(199.55,0.00238)(199.60,0.00236)(199.66,0.00234)(199.53,0.00228)(199.58,0.00224)(199.67,0.00224)(199.52,0.00218)(199.62,0.00214)(199.68,0.00214)(199.50,0.00208)(199.56,0.00204)(199.69,0.00204)(199.49,0.00198)(199.64,0.00196)(199.70,0.00194)(199.48,0.00188)(199.71,0.00184)(199.46,0.00178)(199.54,0.00180)(199.72,0.00174)(199.45,0.00168)(199.73,0.00164)(199.44,0.00158)(199.74,0.00154)(199.43,0.00150)(199.75,0.00144)(199.41,0.00142)(199.76,0.00136)(199.77,0.00128)
(200.59,0.00277)(200.57,0.00270)(200.61,0.00266)(200.55,0.00260)(200.62,0.00256)(200.54,0.00250)(200.63,0.00246)(200.52,0.00240)(200.58,0.00240)(200.64,0.00236)(200.50,0.00230)(200.56,0.00226)(200.65,0.00226)(200.49,0.00220)(200.60,0.00216)(200.66,0.00216)(200.48,0.00210)(200.54,0.00206)(200.67,0.00206)(200.46,0.00200)(200.62,0.00198)(200.68,0.00196)(200.45,0.00190)(200.69,0.00186)(200.44,0.00180)(200.52,0.00182)(200.70,0.00176)(200.43,0.00170)(200.71,0.00166)(200.42,0.00160)(200.72,0.00156)(200.41,0.00150)(200.73,0.00146)(200.38,0.00142)(200.74,0.00136)(200.76,0.00126)(200.77,0.00118)
};
\end{axis}
% ---------------- decorations (px units, y measured from bottom) ----------------
\begin{scope}[x=0.75pt,y=0.75pt]
  \foreach \yy in {731,515.5,300.5,85} {
    \draw[ax!80, line width=0.5pt] (408.5,\yy-9) -- (424.5,\yy+9);
    \draw[ax!80, line width=0.5pt] (420.5,\yy-9) -- (436.5,\yy+9);
  }
  \draw[ax, line width=0.6pt] (417,731) -- (428,731);
  \draw[ax, line width=0.6pt] (417,85) -- (428,85);
  \fill[hred] (416,729) rectangle (429,85.5);
  \node[rotate=90, inner sep=0, text=hred, font=\fontsize{28}{30}\selectfont\bfseries] at (463,406) {harvesting};
  \node[rotate=90, inner sep=0, font=\fontsize{10}{12}\selectfont\bfseries] at (18.3,632) {NDVI};
  \node[rotate=90, inner sep=0, font=\fontsize{10}{12}\selectfont\bfseries] at (18.3,408) {PRI};
  \node[rotate=90, inner sep=0, font=\fontsize{11.5}{13}\selectfont] at (20,192) {\scalebox{1.15}[1]{F\textsubscript{760} (W m\textsuperscript{-2} sr\textsuperscript{-1} nm\textsuperscript{-1})}};
  \draw[bl, line width=1.5pt] (921,226.7) -- (1000,261.5);
  \draw[bl, line width=1.5pt] (907.7,157.7) -- (1000,124);
  \draw[hred, line width=3.5pt, {Stealth[length=21pt,width=20pt,inset=4pt]}-{Stealth[length=21pt,width=20pt,inset=4pt]}] (100,49) -- (959,49);
  \node[anchor=base west, inner sep=0, text=hred, font=\fontsize{33}{36}\selectfont] at (14,9) {12 June};
  \node[anchor=base west, inner sep=0, text=hred, font=\fontsize{32}{36}\selectfont\bfseries] at (426,9) {27 DAYS};
  \node[anchor=base west, inner sep=0, text=hred, font=\fontsize{33}{36}\selectfont] at (893,9) {19 July};
\end{scope}
\end{tikzpicture}
\end{document}
